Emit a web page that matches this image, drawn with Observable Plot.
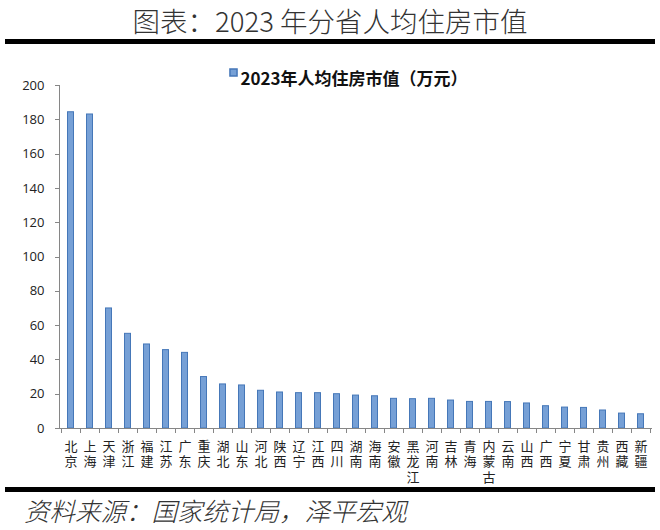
<!DOCTYPE html>
<html><head><meta charset="utf-8">
<script src="https://cdn.jsdelivr.net/npm/d3@7"></script>
<script src="https://cdn.jsdelivr.net/npm/@observablehq/plot@0.6"></script>
<style>
body{margin:0;background:#fff;width:660px;overflow:hidden}
#title{height:39px;line-height:40px;text-align:center;font-family:"Noto Sans CJK SC";font-weight:300;font-size:27.5px;color:#333}
.bar{height:5px;background:#000;margin:0 5px}
#cap{height:38px;line-height:36px;padding-left:24px;font-family:"Noto Sans CJK SC";font-weight:300;font-style:italic;font-size:25.5px;color:#333}
</style></head><body>
<div id="title">图表：2023 年分省人均住房市值</div>
<div class="bar"></div>
<div id="chart"></div>
<div class="bar"></div>
<div id="cap">资料来源：国家统计局，泽平宏观</div>
<script>
const provinces = ["北京","上海","天津","浙江","福建","江苏","广东","重庆","湖北","山东","河北","陕西","辽宁","江西","四川","湖南","海南","安徽","黑龙江","河南","吉林","青海","内蒙古","云南","山西","广西","宁夏","甘肃","贵州","西藏","新疆"];
const values = [184.4,183.1,70.0,55.2,49.0,45.7,44.1,30.0,25.7,25.1,22.0,21.0,20.6,20.6,20.0,19.2,18.8,17.3,17.1,17.3,16.3,15.5,15.5,15.4,14.6,13.0,12.2,12.0,10.5,8.7,8.3];
const yTicks = [0,20,40,60,80,100,120,140,160,180,200];
const legendLabel = "2023年人均住房市值（万元）";

const data = provinces.map((p,i)=>({p, v: values[i]}));

const axisLines = (index, scales, values, dim) => {
  const g = d3.create("svg:g");
  const x = scales.x, y = scales.y, bw = x.bandwidth();
  const y0 = y(0);
  g.append("line").attr("x1", dim.marginLeft+0.5).attr("x2", dim.marginLeft+0.5)
    .attr("y1", y(200)).attr("y2", y0).attr("stroke", "#868686");
  g.append("line").attr("x1", dim.marginLeft).attr("x2", dim.width-dim.marginRight)
    .attr("y1", y0+0.5).attr("y2", y0+0.5).attr("stroke", "#868686");
  const bounds = provinces.map(p => x(p)).concat([x(provinces[provinces.length-1])+bw]);
  for (const b of bounds) {
    g.append("line").attr("x1", Math.round(b)+0.5).attr("x2", Math.round(b)+0.5)
      .attr("y1", y0).attr("y2", y0+5).attr("stroke", "#868686");
  }
  for (const t of yTicks) {
    g.append("line").attr("x1", dim.marginLeft-4).attr("x2", dim.marginLeft)
      .attr("y1", Math.round(y(t))+0.5).attr("y2", Math.round(y(t))+0.5).attr("stroke", "#868686");
  }
  return g.node();
};

const chart = Plot.plot({
  width: 660, height: 443,
  marginLeft: 59, marginRight: 8, marginTop: 41, marginBottom: 59,
  style: {fontFamily: "'Noto Sans CJK SC', sans-serif", background: "#fff"},
  x: {domain: provinces, padding: 0, label: null},
  y: {domain: [0, 200], label: null},
  marks: [
    Plot.barY(data, {x: "p", y: "v", fill: "#76a0d6", stroke: "#4577b8", strokeWidth: 1, insetLeft: 6.5, insetRight: 6.5}),
    axisLines,
    Plot.axisY({ticks: yTicks, tickSize: 0, tickPadding: 15, fontSize: 13, fontFamily: "'Open Sans', sans-serif", fill: "#222"}),
    Plot.axisX({tickSize: 0, tickPadding: 11, fontSize: 13, fill: "#222", lineHeight: 1.2,
      tickFormat: d => d.split("").join("\n"), textAnchor: "middle"}),
    Plot.dot([legendLabel], {frameAnchor: "top-left", dx: 174, dy: -13, symbol: "square", r: 4, fill: "#76a0d6", stroke: "#4577b8"}),
    Plot.text([legendLabel], {frameAnchor: "top-left", dx: 181, dy: -13, textAnchor: "start", fontSize: 17, fontWeight: "bold", fill: "#111"})
  ]
});
document.getElementById("chart").appendChild(chart);
</script>
</body></html>
